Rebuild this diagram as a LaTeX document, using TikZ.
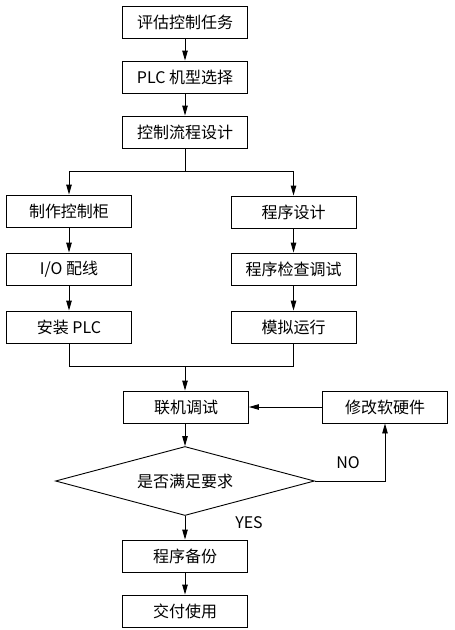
\documentclass[tikz,border=0pt]{standalone}
\usepackage{fontspec}
\setmainfont{Noto Sans CJK SC}
\usepackage{tikz}
\usetikzlibrary{positioning, arrows.meta, shapes.geometric}

\tikzset{
  box/.style={draw, line width=0.9pt, minimum width=125pt, minimum height=32pt, inner sep=0pt},
  ask/.style={draw, diamond, line width=0.9pt, aspect=3.7, minimum width=259pt, minimum height=69pt, inner sep=0pt},
  link/.style={line width=0.9pt, -{Triangle[length=10pt,width=5.5pt]}},
  line/.style={line width=0.9pt}
}

\begin{document}
\begin{tikzpicture}[x=1pt, y=-1pt, font=\fontsize{16}{19}\selectfont]
\useasboundingbox (0,0) rectangle (455,630);

% nodes
\node[box] (Eval)  at (185,22)  {评估控制任务};
\node[box] (Sel)   at (185,77)  {PLC 机型选择};
\node[box] (Flow)  at (185,132) {控制流程设计};
\node[box] (Cab)   at (69,211)  {制作控制柜};
\node[box] (Prog)  at (293.5,212) {程序设计};
\node[box] (Wire)  at (69,269)  {I/O 配线};
\node[box] (Check) at (293.5,269) {程序检查调试};
\node[box] (Inst)  at (69,327)  {安装 PLC};
\node[box] (Sim)   at (293.5,327) {模拟运行};
\node[box] (Debug) at (186,407) {联机调试};
\node[box] (Fix)   at (385,407) {修改软硬件};
\node[ask] (Req)   at (185,481) {是否满足要求};
\node[box] (Back)  at (185,556) {程序备份};
\node[box] (Use)   at (185,611) {交付使用};
\node (No)  at (348,463) {NO};
\node (Yes) at (249,523) {YES};

\coordinate (Split) at (185,171);
\coordinate (Merge) at (185,366);

% arrows
\draw[link] (Eval) -- (Sel);
\draw[link] (Sel) -- (Flow);
\draw[line] (Flow) -- (Split);
\draw[link] (Split) -| (Cab);
\draw[link] (Split) -| (Prog);
\draw[link] (Cab) -- (Wire);
\draw[link] (Wire) -- (Inst);
\draw[link] (Prog) -- (Check);
\draw[link] (Check) -- (Sim);
\draw[line] (Inst) |- (Merge);
\draw[line] (Sim) |- (Merge);
\draw[link] (Merge) -- (Merge |- Debug.north);
\draw[link] (Debug.south -| Req.north) -- (Req);
\draw[link] (Req.east) -| (Fix);
\draw[link] (Fix) -- (Debug);
\draw[link] (Req) -- (Back);
\draw[link] (Back) -- (Use);
\end{tikzpicture}
\end{document}
